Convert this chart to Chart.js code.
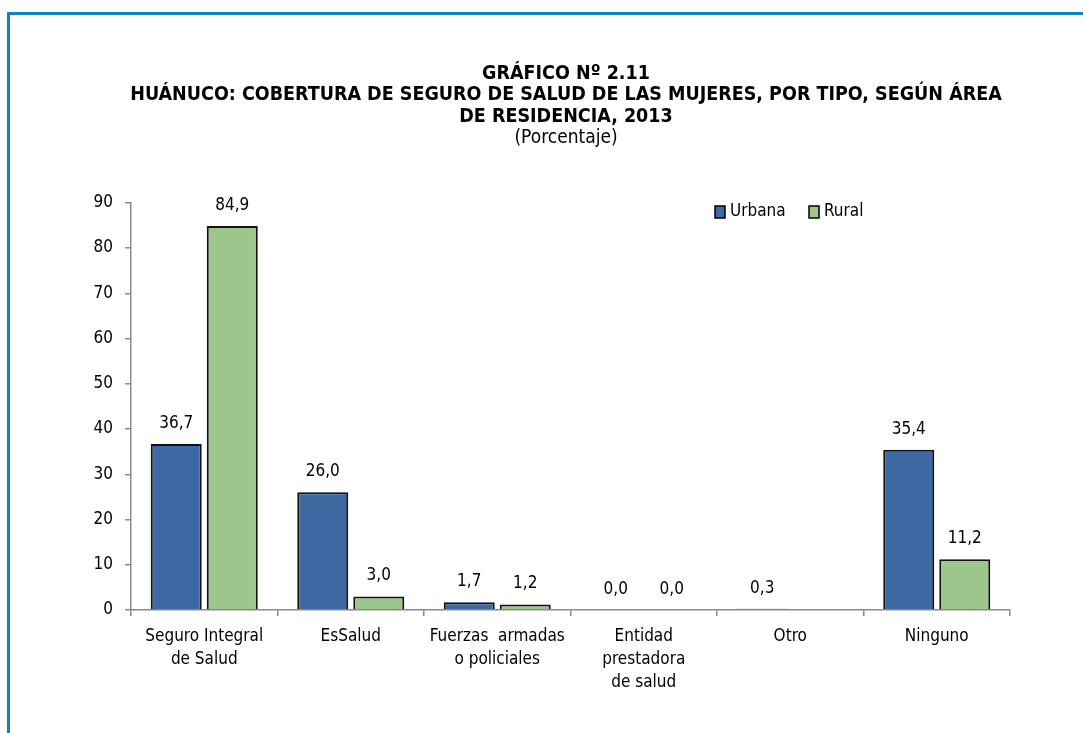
<!DOCTYPE html>
<html>
<head>
<meta charset="utf-8">
<script src="https://cdn.jsdelivr.net/npm/chart.js@4.4.0/dist/chart.umd.min.js"></script>
<style>
  html, body { margin: 0; padding: 0; background: #fff; }
  #wrap { position: relative; width: 1083px; height: 733px; overflow: hidden; }
  #frame { position: absolute; left: 7px; top: 12px; width: 1200px; height: 900px;
           border-left: 3px solid #0b86bd; border-top: 3px solid #0b86bd; box-sizing: border-box; }
  canvas { position: absolute; left: 0; top: 0; }
</style>
</head>
<body>
<div id="wrap">
  <div id="frame"></div>
  <canvas id="c" width="1083" height="733"></canvas>
</div>
<script>
const FONT = "'Liberation Sans Narrow', 'Arial Narrow', 'DejaVu Sans Condensed', sans-serif";

const titleLines = [
  "GRÁFICO Nº 2.11",
  "HUÁNUCO: COBERTURA DE SEGURO DE SALUD DE LAS MUJERES, POR TIPO, SEGÚN ÁREA",
  "DE RESIDENCIA, 2013"
];
const subtitleText = "(Porcentaje)";

const categories = [
  ["Seguro Integral", "de Salud"],
  ["EsSalud"],
  ["Fuerzas  armadas", "o policiales"],
  ["Entidad", "prestadora", "de salud"],
  ["Otro"],
  ["Ninguno"]
];

const seriesNames = ["Urbana", "Rural"];
const urbana = [36.7, 26.0, 1.7, 0.0, 0.3, 35.4];
const rural  = [84.9, 3.0, 1.2, 0.0, null, 11.2];

const yTicks = [0, 10, 20, 30, 40, 50, 60, 70, 80, 90];

const colors = ["#3e6aa3", "#9bc88a"];

const valueLabels = {
  id: 'valueLabels',
  afterDatasetsDraw(chart) {
    const ctx = chart.ctx;
    ctx.save();
    ctx.font = "17px " + FONT;
    ctx.fillStyle = "#000";
    ctx.textAlign = "center";
    ctx.textBaseline = "bottom";
    chart.data.datasets.forEach((ds, i) => {
      const meta = chart.getDatasetMeta(i);
      meta.data.forEach((bar, j) => {
        const v = ds.data[j];
        if (v === null || v === undefined) return;
        ctx.fillText(v.toFixed(1).replace('.', ','), bar.x, bar.y - 12);
      });
    });
    ctx.restore();
  }
};

const legendX = [715, 809];
const customLegend = {
  id: 'customLegend',
  afterDraw(chart) {
    const ctx = chart.ctx;
    ctx.save();
    ctx.font = "17px " + FONT;
    ctx.textBaseline = "middle";
    ctx.textAlign = "left";
    const y = 212;
    chart.data.datasets.forEach((ds, i) => {
      const x = legendX[i];
      ctx.fillStyle = ds.backgroundColor;
      ctx.fillRect(x, y - 6, 10, 12);
      ctx.strokeStyle = "#000";
      ctx.lineWidth = 1.5;
      ctx.strokeRect(x, y - 6, 10, 12);
      ctx.fillStyle = "#000";
      ctx.fillText(ds.label, x + 15, y);
    });
    ctx.restore();
  }
};

new Chart(document.getElementById('c'), {
  type: 'bar',
  data: {
    labels: categories,
    datasets: [
      { label: seriesNames[0], data: urbana, backgroundColor: colors[0], borderColor: "#111", borderWidth: 2 },
      { label: seriesNames[1], data: rural,  backgroundColor: colors[1], borderColor: "#111", borderWidth: 2 }
    ]
  },
  options: {
    responsive: false,
    animation: false,
    devicePixelRatio: 1,
    categoryPercentage: 0.765,
    barPercentage: 0.91,
    layout: { padding: { left: 49, right: 0, top: 0, bottom: 0 } },
    plugins: {
      legend: { display: false },
      tooltip: { enabled: false },
      title: {
        display: true,
        text: titleLines,
        color: "#000",
        font: { family: FONT, size: 19.5, weight: 'bold', lineHeight: 1.1 },
        padding: { top: 63, bottom: 0 }
      },
      subtitle: {
        display: true,
        text: subtitleText,
        color: "#000",
        font: { family: FONT, size: 19, weight: 'normal', lineHeight: 1.13 },
        padding: { top: 0, bottom: 54 }
      }
    },
    scales: {
      x: {
        grid: { display: true, drawOnChartArea: false, offset: true, color: "#8a8a8a", tickLength: 6, lineWidth: 1.5 },
        border: { display: true, color: "#8a8a8a", width: 1.5 },
        ticks: { color: "#000", font: { family: FONT, size: 17, lineHeight: 1.35 }, padding: 9, maxRotation: 0, autoSkip: false },
        afterFit(s) { s.height = 123; }
      },
      y: {
        min: 0, max: 90,
        afterBuildTicks(s) { s.ticks = yTicks.map(v => ({ value: v })); },
        grid: { display: true, drawOnChartArea: false, color: "#8a8a8a", tickLength: 6, lineWidth: 1.5 },
        border: { display: true, color: "#8a8a8a", width: 1.5 },
        ticks: { color: "#000", font: { family: FONT, size: 17 }, padding: 12 },
        afterFit(s) { s.width = 82; }
      },
      yRight: {
        position: 'right',
        display: true,
        min: 0, max: 90,
        grid: { display: false },
        border: { display: false },
        ticks: { display: false },
        afterFit(s) { s.width = 73; }
      }
    }
  },
  plugins: [valueLabels, customLegend]
});
</script>
</body>
</html>
